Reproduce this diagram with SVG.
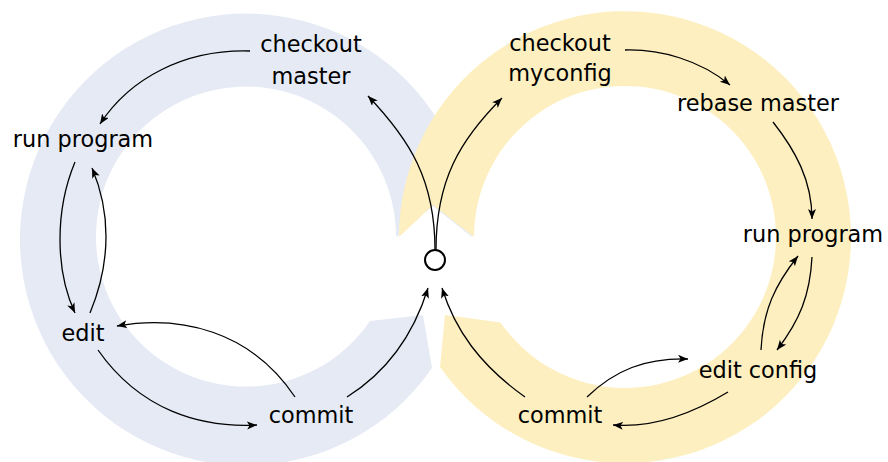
<svg xmlns="http://www.w3.org/2000/svg" width="888" height="462" viewBox="0 0 888 462">
  <defs>
    <marker id="arrow" markerUnits="userSpaceOnUse" markerWidth="12" markerHeight="10" refX="10" refY="4" orient="auto">
      <path d="M0,0 L10,4 L0,8 L2.5,4 Z" fill="#000"/>
    </marker>
    <style>
      .label { font-family: "DejaVu Sans", Verdana, sans-serif; font-size: 22.4px; fill: #000; text-anchor: middle; }
      .edge { fill: none; stroke: #000; stroke-width: 1.3; marker-end: url(#arrow); }
    </style>
  </defs>

  <!-- circular band arrows behind the two loops -->
  <g id="bands">
    <path id="band-master" fill="#e5eaf5"
          d="M472,237 A226,226 0 1 0 432,368 L423,315 L370,321 A150,150 0 1 1 396,237 L433,206 Z"/>
    <path id="band-myconfig" fill="#fdefbf"
          d="M399,237 A226,226 0 1 1 440,367 L445,315 L500.6,322.5 A151,151 0 1 0 474,237 L433,205 Z"/>
  </g>

  <!-- connectors -->
  <g id="connectors">
    <path class="edge" d="M250,51 C185,49 130,78 100,124"/>
    <path class="edge" d="M75,162 C55,210 55,270 75,313"/>
    <path class="edge" d="M90,313 C112,260 110,210 92,168"/>
    <path class="edge" d="M98,350 C140,410 200,428 257,425"/>
    <path class="edge" d="M295,397 C250,330 180,315 117,326"/>
    <path class="edge" d="M347,397 C390,370 415,330 428,288"/>
    <path class="edge" d="M435,250 C435,180 410,140 368,96"/>
    <path class="edge" d="M436,250 C436,180 460,140 502,98"/>
    <path class="edge" d="M625,50 C660,49 700,60 730,85"/>
    <path class="edge" d="M773,122 C795,150 812,180 812,219"/>
    <path class="edge" d="M812,257 C810,295 800,320 777,350"/>
    <path class="edge" d="M761,350 C763,310 775,285 798,256"/>
    <path class="edge" d="M728,392 C690,415 650,428 613,425"/>
    <path class="edge" d="M587,397 C615,370 645,358 688,359"/>
    <path class="edge" d="M525,397 C480,365 455,330 442,288"/>
  </g>

  <!-- start point -->
  <g id="start">
    <circle cx="435" cy="260" r="10" fill="#fff" stroke="#000" stroke-width="2"/>
  </g>

  <!-- master loop -->
  <g id="checkout-master">
    <text class="label" x="311" y="52">checkout</text>
    <text class="label" x="311" y="84">master</text>
  </g>
  <g id="run-program-left">
    <text class="label" x="83" y="147">run program</text>
  </g>
  <g id="edit">
    <text class="label" x="83" y="341">edit</text>
  </g>
  <g id="commit-left">
    <text class="label" x="311" y="423">commit</text>
  </g>

  <!-- myconfig loop -->
  <g id="checkout-myconfig">
    <text class="label" x="560" y="51">checkout</text>
    <text class="label" x="560" y="81">myconfig</text>
  </g>
  <g id="rebase-master">
    <text class="label" x="758" y="111">rebase master</text>
  </g>
  <g id="run-program-right">
    <text class="label" x="813" y="242">run program</text>
  </g>
  <g id="edit-config">
    <text class="label" x="758" y="378">edit config</text>
  </g>
  <g id="commit-right">
    <text class="label" x="560" y="423">commit</text>
  </g>
</svg>
